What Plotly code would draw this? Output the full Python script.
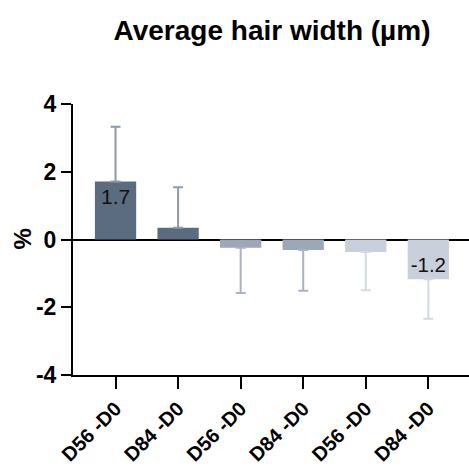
import plotly.graph_objects as go

categories = ["D56 -D0", "D84 -D0", "D56 -D0", "D84 -D0", "D56 -D0", "D84 -D0"]
values = [1.71, 0.35, -0.24, -0.31, -0.37, -1.17]
errors = [1.62, 1.19, 1.34, 1.20, 1.13, 1.17]
labels = ["1.7", "", "", "", "", "-1.2"]
bar_colors = ["#5b6b80", "#5b6b80", "#9aa8ba", "#9aa8ba", "#c9d0dc", "#c9d0dc"]
err_colors = ["#8d9aab", "#8d9aab", "#a8b4c4", "#a8b4c4", "#d3d9e2", "#d3d9e2"]

FONT = "Liberation Sans, Arial, sans-serif"

fig = go.Figure()
for i, (v, e) in enumerate(zip(values, errors)):
    up = e if v >= 0 else 0
    down = e if v < 0 else 0
    fig.add_trace(go.Bar(
        x=[i], y=[v], width=0.66,
        marker=dict(color=bar_colors[i], line=dict(width=0)),
        error_y=dict(type="data", symmetric=False, array=[up], arrayminus=[down],
                     color=err_colors[i], thickness=2, width=5),
        text=[labels[i]], textposition="inside", insidetextanchor="end",
        textangle=0, textfont=dict(family=FONT, size=21, color="#111111"),
        showlegend=False, hoverinfo="skip",
    ))

fig.update_layout(
    width=469, height=466,
    margin=dict(l=73, r=0, t=104, b=91),
    paper_bgcolor="white", plot_bgcolor="white",
    barmode="overlay",
    title=dict(text="<b>Average hair width (µm)</b>", x=0.58, xanchor="center",
               y=1 - 30 / 466, yanchor="middle", yref="container",
               font=dict(family=FONT, size=28, color="black")),
    xaxis=dict(range=[-0.68, 5.65], tickmode="array", tickvals=list(range(6)),
               ticktext=[f"<b>{c}</b>" for c in categories], tickangle=-45,
               showline=True, linecolor="black", linewidth=2,
               ticks="outside", ticklen=12, tickwidth=2, tickcolor="black",
               tickfont=dict(family=FONT, size=20, color="black"),
               showgrid=False, zeroline=False),
    yaxis=dict(range=[-4, 4], tickvals=[-4, -2, 0, 2, 4],
               ticktext=["<b>-4</b>", "<b>-2</b>", "<b>0</b>", "<b>2</b>", "<b>4</b>"],
               showline=True, linecolor="black", linewidth=2,
               ticks="outside", ticklen=10, tickwidth=2, tickcolor="black",
               tickfont=dict(family=FONT, size=23, color="black"),
               showgrid=False, zeroline=True, zerolinecolor="black", zerolinewidth=2),
    annotations=[dict(text="<b>%</b>", xref="paper", yref="paper",
                      x=-(73 - 22) / 396, y=0.5, xanchor="center", yanchor="middle",
                      textangle=-90, showarrow=False,
                      font=dict(family=FONT, size=24, color="black"))],
)

fig.write_html("out.html")
